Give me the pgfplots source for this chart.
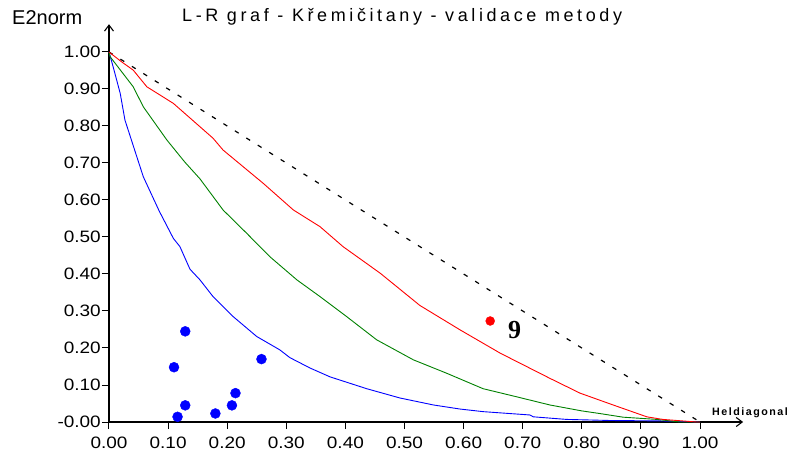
\documentclass[border=0pt]{standalone}
\usepackage{fontspec}
\setmainfont{Liberation Sans}
\newfontfamily\tickfont[FakeStretch=1.15]{Liberation Sans}
\newfontfamily\titlefont[LetterSpace=20]{Liberation Sans}
\newfontfamily\smallfont[LetterSpace=14]{Liberation Sans}
\newfontfamily\numfont{Liberation Serif}
\usepackage{pgfplots}
\pgfplotsset{compat=1.18}
\usetikzlibrary{arrows.meta}

\definecolor{lrblue}{RGB}{0,0,255}
\definecolor{lrgreen}{RGB}{0,128,0}
\definecolor{lrred}{RGB}{255,0,0}

\begin{document}
\begin{tikzpicture}
\begin{axis}[
  anchor=origin, at={(0pt,0pt)},
  x=591pt, y=370pt,
  xmin=0, xmax=1.073, ymin=0, ymax=1.075,
  axis lines=left,
  axis line style={line width=1.1pt, -{Straight Barb[length=6pt,width=9pt]}},
  tick style={black, line width=1pt},
  tick align=outside,
  major tick length=7pt,
  xtick={0,0.1,0.2,0.3,0.4,0.5,0.6,0.7,0.8,0.9,1},
  ytick={0,0.1,0.2,0.3,0.4,0.5,0.6,0.7,0.8,0.9,1},
  xticklabels={0.00,0.10,0.20,0.30,0.40,0.50,0.60,0.70,0.80,0.90,1.00},
  yticklabels={-0.00,0.10,0.20,0.30,0.40,0.50,0.60,0.70,0.80,0.90,1.00},
  /pgf/number format/assume math mode=true,
  tick label style={font=\tickfont\fontsize{16.5}{18}\selectfont},
  xticklabel style={inner sep=0pt, yshift=-8pt},
  yticklabel style={inner sep=0pt, xshift=-1pt},
  clip=false,
]
% equality diagonal
\addplot[black, line width=1.2pt, dash pattern=on 4.5pt off 9pt] coordinates {(0,1) (1,0)};

% L-R curves
\addplot[lrblue, line width=0.9pt] coordinates {
(0,1) (0.007,0.96) (0.019,0.888) (0.027,0.816) (0.058,0.663) (0.085,0.57)
(0.109,0.496) (0.120,0.474) (0.137,0.413) (0.154,0.384) (0.176,0.339)
(0.210,0.285) (0.250,0.231) (0.289,0.195) (0.306,0.174) (0.340,0.146)
(0.374,0.122) (0.436,0.090) (0.492,0.065) (0.549,0.046) (0.594,0.035)
(0.633,0.028) (0.712,0.019) (0.718,0.014) (0.774,0.007) (0.85,0.004)
(0.93,0.003) (1,0)};

\addplot[lrgreen, line width=0.9pt] coordinates {
(0,1) (0.002,0.987) (0.041,0.906) (0.058,0.852) (0.098,0.762) (0.128,0.703)
(0.154,0.657) (0.193,0.573) (0.233,0.510) (0.272,0.447) (0.318,0.384)
(0.357,0.339) (0.402,0.285) (0.453,0.222) (0.515,0.168) (0.571,0.132)
(0.633,0.090) (0.690,0.068) (0.746,0.046) (0.800,0.030) (0.830,0.023)
(0.870,0.013) (0.927,0.007) (0.966,0.0) (1,0)};

\addplot[lrred, line width=0.9pt] coordinates {
(0,1) (0.020,0.975) (0.041,0.951) (0.064,0.906) (0.109,0.861) (0.176,0.767)
(0.193,0.735) (0.261,0.645) (0.312,0.573) (0.357,0.528) (0.396,0.474)
(0.459,0.402) (0.526,0.315) (0.594,0.249) (0.662,0.186) (0.746,0.118)
(0.797,0.078) (0.853,0.046) (0.910,0.014) (0.937,0.007) (0.994,0.0) (1,0)};

% validation samples
\addplot[only marks, mark=*, mark size=5pt, lrblue] coordinates {
(0.129,0.245) (0.110,0.148) (0.129,0.045) (0.116,0.014)
(0.180,0.023) (0.208,0.045) (0.214,0.078) (0.258,0.170)};

\addplot[only marks, mark=*, mark size=4.5pt, lrred] coordinates {(0.645,0.273)};

\node[anchor=base west, inner sep=0pt, font=\numfont\bfseries\fontsize{26}{28}\selectfont]
  at (axis cs:0.675,0.227) {9};
\end{axis}

\node[anchor=base west, inner sep=0pt, font=\fontsize{20}{24}\selectfont] at (-97pt,397pt) {E2norm};
\node[anchor=base west, inner sep=0pt, font=\titlefont\fontsize{18}{20}\selectfont] at (73pt,400pt)
  {L-R graf - Křemičitany - validace metody};
\node[anchor=base west, inner sep=0pt, font=\smallfont\bfseries\fontsize{10.7}{12}\selectfont] at (603pt,6pt)
  {Heldiagonal};

\pgfresetboundingbox
\path[use as bounding box] (-109pt,-30pt) rectangle (680pt,422pt);
\end{tikzpicture}
\end{document}
